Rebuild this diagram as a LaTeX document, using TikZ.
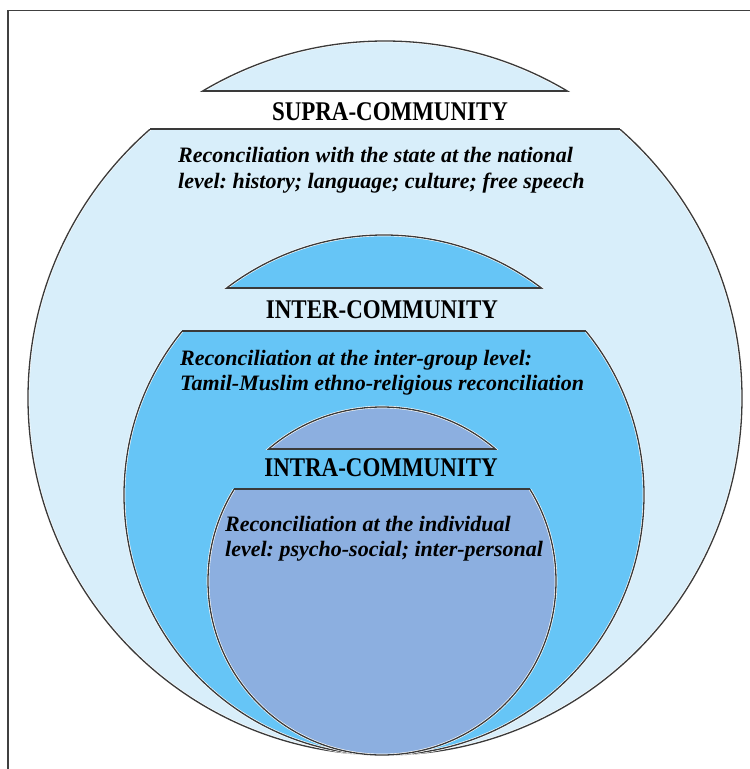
\documentclass[tikz,border=0pt]{standalone}
\usepackage{fontspec}
\setmainfont{Liberation Serif}
\frenchspacing
\definecolor{supraC}{HTML}{D8EEFA}
\definecolor{interC}{HTML}{66C5F6}
\definecolor{intraC}{HTML}{8CAFE0}
\definecolor{lineC}{HTML}{3A3A3A}
\newcommand\drawlevel[6]{% cx, cy, R, ybase, yband, colour
  \pgfmathsetmacro\hwa{#3*sqrt(1-((#2-#4)/#3)^2)}
  \pgfmathsetmacro\hwb{#3*sqrt(1-((#2-#5)/#3)^2)}
  \begin{scope}
    \clip (0,0) rectangle (750,#4);
    \fill[#6] (#1,#2) circle[radius=#3pt];
    \draw[halo] (#1,#2) circle[radius=#3pt];
    \draw[outl] (#1,#2) circle[radius=#3pt];
  \end{scope}
  \draw[halo] (#1-\hwa,#4) -- (#1+\hwa,#4);
  \draw[outl] (#1-\hwa,#4) -- (#1+\hwa,#4);
  \begin{scope}
    \clip (0,#5) rectangle (750,769);
    \fill[#6] (#1,#2) circle[radius=#3pt];
    \draw[halo] (#1,#2) circle[radius=#3pt];
    \draw[outl] (#1,#2) circle[radius=#3pt];
  \end{scope}
  \draw[halo] (#1-\hwb,#5) -- (#1+\hwb,#5);
  \draw[outl] (#1-\hwb,#5) -- (#1+\hwb,#5);
}
\begin{document}
\begin{tikzpicture}[x=1pt,y=-1pt,
  outl/.style={draw=lineC, line width=1.3pt},
  halo/.style={draw=white, line width=2.6pt},
  ttl/.style={font=\bfseries\fontsize{27}{27}\selectfont, inner sep=0pt, text=black},
  body/.style={font=\bfseries\itshape\fontsize{22}{27}\selectfont, inner sep=0pt, anchor=base west, text=black}]
\useasboundingbox (0,0) rectangle (750,769);
\fill[white] (0,0) rectangle (750,769);
\draw[line width=1.6pt, draw=black!75] (8,790) -- (8,10.5) -- (770,10.5);

\drawlevel{385}{398}{357}{91}{129}{supraC}
\drawlevel{384}{495}{260}{288}{331}{interC}
\drawlevel{382}{581}{174}{449}{489}{intraC}

\node[ttl] (supraT) at (390,112) {\scalebox{0.85}[1]{SUPRA-COMMUNITY}};
\node[body] (supra1) at (178,162) {Reconciliation with the state at the national};
\node[body] (supra2) at (178,188) {level: history; language; culture; free speech};

\node[ttl] (interT) at (382,310) {\scalebox{0.85}[1]{INTER-COMMUNITY}};
\node[body] (inter1) at (180,365) {Reconciliation at the inter-group level:};
\node[body] (inter2) at (180,390) {Tamil-Muslim ethno-religious reconciliation};

\node[ttl] (intraT) at (381,468) {\scalebox{0.85}[1]{INTRA-COMMUNITY}};
\node[body] (intra1) at (225,531) {Reconciliation at the individual};
\node[body] (intra2) at (225,556) {level: psycho-social; inter-personal};
\end{tikzpicture}
\end{document}
